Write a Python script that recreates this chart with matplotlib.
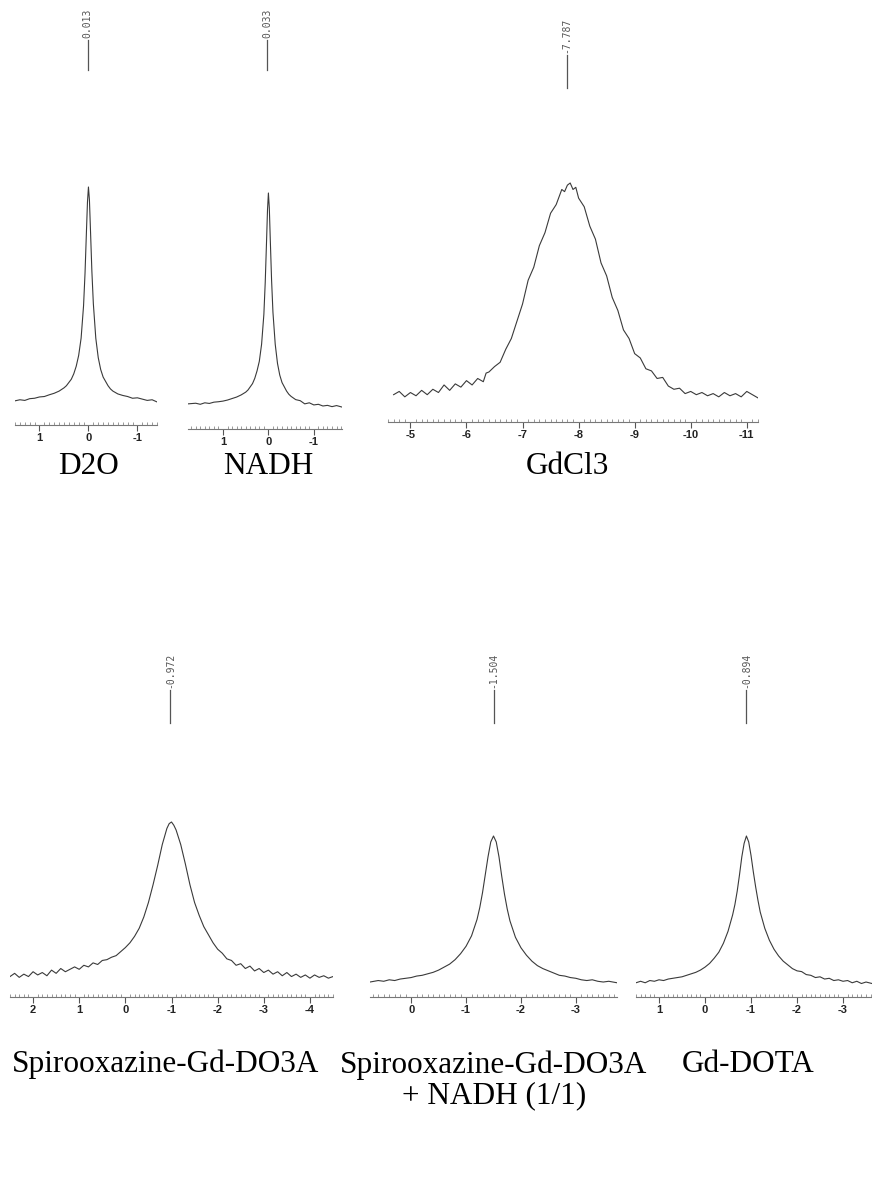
"""Gd 1H shift spectra: D2O / NADH / GdCl3 on top, DO3A / DO3A+NADH / DOTA below."""

import matplotlib
matplotlib.use("Agg")
import matplotlib.pyplot as plt
from matplotlib.transforms import blended_transform_factory

plt.rcParams["axes.unicode_minus"] = False

W, H = 872, 1181  # output size in px (dpi 100)

# ---- spectra (ppm, intensity in % of peak) ----
d2o_ppm = [1.5, 1.4, 1.3, 1.2, 1.1, 1.0, 0.9, 0.8, 0.7, 0.6, 0.5, 0.45, 0.4, 0.35, 0.3,
           0.25, 0.2, 0.15, 0.1, 0.07, 0.04, 0.02, 0.0, -0.02, -0.04, -0.07, -0.1, -0.15,
           -0.2, -0.25, -0.3, -0.35, -0.4, -0.45, -0.5, -0.6, -0.7, -0.8, -0.9, -1.0, -1.1,
           -1.2, -1.3, -1.4]
d2o_int = [1.0, 1.5, 1.2, 2.0, 2.2, 2.8, 3.0, 3.8, 4.5, 5.5, 7.0, 8.0, 9.5, 11, 13.5,
           17, 22, 30, 45, 60, 80, 93, 100, 94, 81, 61, 46, 30,
           21, 15.5, 12, 10, 8, 6.5, 5.5, 4.2, 3.5, 3.0, 2.2, 2.4, 1.8,
           1.2, 1.5, 0.5]

nadh_ppm = [1.77, 1.6, 1.5, 1.4, 1.3, 1.2, 1.1, 1.0, 0.9, 0.8, 0.7, 0.6, 0.5, 0.45, 0.4,
            0.35, 0.3, 0.25, 0.2, 0.15, 0.1, 0.07, 0.04, 0.02, 0.0, -0.02, -0.04, -0.07,
            -0.1, -0.15, -0.2, -0.25, -0.3, -0.35, -0.4, -0.45, -0.5, -0.6, -0.7, -0.8,
            -0.9, -1.0, -1.1, -1.2, -1.3, -1.4, -1.5, -1.62]
nadh_int = [1.0, 1.3, 0.8, 1.5, 1.2, 1.8, 2.0, 2.3, 2.8, 3.5, 4.2, 5.2, 6.5, 7.5, 9,
            10.5, 13, 16.5, 21, 29, 43, 58, 78, 92, 100, 93, 79, 59,
            44, 29, 20, 14.5, 11, 9, 7, 5.5, 4.5, 3.0, 2.5, 1.0,
            1.5, 0.5, 0.8, 0.0, 0.3, -0.3, 0.2, -0.5]

gdcl3_ppm = [-4.7, -4.8, -4.9, -5.0, -5.1, -5.2, -5.3, -5.4, -5.5, -5.6, -5.7, -5.8, -5.9,
             -6.0, -6.1, -6.2, -6.3, -6.35, -6.4, -6.5, -6.6, -6.7, -6.8, -6.9, -7.0, -7.1,
             -7.2, -7.3, -7.4, -7.5, -7.6, -7.7, -7.75, -7.8, -7.85, -7.9, -7.95, -8.0,
             -8.1, -8.2, -8.3, -8.4, -8.5, -8.6, -8.7, -8.8, -8.9, -9.0, -9.1, -9.2, -9.3,
             -9.4, -9.5, -9.6, -9.7, -9.8, -9.9, -10.0, -10.1, -10.2, -10.3, -10.4, -10.5,
             -10.6, -10.7, -10.8, -10.9, -11.0, -11.1, -11.2]
gdcl3_int = [2.0, 3.5, 1.0, 3.0, 1.5, 4.0, 2.0, 4.5, 3.0, 6.5, 4.0, 7.0, 5.5,
             8.5, 6.5, 9.5, 8.0, 12, 12.5, 15, 17, 23, 28, 36, 44, 55,
             61, 71, 77, 86, 90, 97, 96, 99, 100, 97, 98, 93,
             89, 80, 74, 63, 57, 47, 41, 32, 28, 21, 19, 14, 13,
             9.5, 10, 6, 4.5, 5, 2.5, 3.5, 2.0, 3.0, 1.5, 2.5, 1.0,
             3.0, 1.5, 2.5, 1.0, 3.5, 2.0, 0.5]

do3a_ppm = [2.5, 2.4, 2.3, 2.2, 2.1, 2.0, 1.9, 1.8, 1.7, 1.6, 1.5, 1.4, 1.3, 1.2, 1.1,
            1.0, 0.9, 0.8, 0.7, 0.6, 0.5, 0.4, 0.3, 0.2, 0.1, 0.0, -0.1, -0.2, -0.3,
            -0.4, -0.5, -0.6, -0.7, -0.8, -0.9, -0.95, -1.0, -1.05, -1.1, -1.2, -1.3,
            -1.4, -1.5, -1.6, -1.7, -1.8, -1.9, -2.0, -2.1, -2.2, -2.3, -2.4, -2.5, -2.6,
            -2.7, -2.8, -2.9, -3.0, -3.1, -3.2, -3.3, -3.4, -3.5, -3.6, -3.7, -3.8, -3.9,
            -4.0, -4.1, -4.2, -4.3, -4.4, -4.5]
do3a_int = [4, 6, 3.5, 5.5, 4, 7, 5, 6.5, 4.5, 8, 6, 9, 7, 8.5, 10,
            8.5, 11, 10, 12.5, 11.5, 14, 14.5, 16, 17, 19.5, 22, 25, 29, 34,
            41, 50, 61, 73, 86, 96, 99, 100, 98, 95, 86, 74,
            61, 50, 42, 35, 30, 25, 21, 18.5, 15, 14, 11, 12, 9,
            10.5, 7.5, 9, 6.5, 8, 5.5, 7, 4.5, 6.5, 4, 5.5, 3.5, 5,
            3, 5, 3.5, 4.5, 3, 4]

do3a_nadh_ppm = [0.75, 0.6, 0.5, 0.4, 0.3, 0.2, 0.1, 0.0, -0.1, -0.2, -0.3, -0.4, -0.5,
                 -0.6, -0.7, -0.8, -0.9, -1.0, -1.1, -1.2, -1.25, -1.3, -1.35, -1.4, -1.45,
                 -1.5, -1.55, -1.6, -1.65, -1.7, -1.75, -1.8, -1.9, -2.0, -2.1, -2.2, -2.3,
                 -2.4, -2.5, -2.6, -2.7, -2.8, -2.9, -3.0, -3.1, -3.2, -3.3, -3.4, -3.5,
                 -3.6, -3.75]
do3a_nadh_int = [2.0, 3.0, 2.5, 3.5, 3.0, 4.0, 4.5, 5.0, 6.0, 6.5, 7.5, 8.5, 10,
                 12, 14, 17, 21, 26, 33, 44, 52, 62, 74, 86, 96,
                 100, 96, 86, 73, 61, 51, 43, 32, 25, 20, 16, 13,
                 11, 9.5, 8, 6.5, 6, 5, 4.5, 3.5, 3.0, 3.5, 2.5, 2.0,
                 2.5, 1.5]

dota_ppm = [1.5, 1.4, 1.3, 1.2, 1.1, 1.0, 0.9, 0.8, 0.7, 0.6, 0.5, 0.4, 0.3, 0.2, 0.1,
            0.0, -0.1, -0.2, -0.3, -0.4, -0.5, -0.6, -0.65, -0.7, -0.75, -0.8, -0.85,
            -0.9, -0.95, -1.0, -1.05, -1.1, -1.15, -1.2, -1.3, -1.4, -1.5, -1.6, -1.7,
            -1.8, -1.9, -2.0, -2.1, -2.2, -2.3, -2.4, -2.5, -2.6, -2.7, -2.8, -2.9, -3.0,
            -3.1, -3.2, -3.3, -3.4, -3.5, -3.63]
dota_int = [1.5, 2.5, 1.5, 3.0, 2.5, 3.5, 3.0, 4.0, 4.5, 5.0, 5.5, 6.5, 7.5, 8.5, 10,
            12, 14.5, 18, 22, 28, 36, 47, 54, 63, 74, 86, 95,
            100, 96, 87, 76, 66, 57, 49, 38, 30, 24, 19.5, 16,
            13.5, 11, 9.5, 9, 7, 6.5, 5, 5.5, 4, 4.5, 3, 3.5, 2.5,
            3.0, 1.5, 2.5, 1.0, 2.0, 1.0]

# picked peak positions (ppm) and axis ticks
shifts = [0.013, 0.033, -7.787, -0.972, -1.504, -0.894]
ticks = [[1, 0, -1], [1, 0, -1], [-5, -6, -7, -8, -9, -10, -11],
         [2, 1, 0, -1, -2, -3, -4], [0, -1, -2, -3], [1, 0, -1, -2, -3]]
labels = ["D2O", "NADH", "GdCl3", "Spirooxazine-Gd-DO3A",
          "Spirooxazine-Gd-DO3A\n+ NADH (1/1)", "Gd-DOTA"]
spectra = [(d2o_ppm, d2o_int), (nadh_ppm, nadh_int), (gdcl3_ppm, gdcl3_int),
           (do3a_ppm, do3a_int), (do3a_nadh_ppm, do3a_nadh_int), (dota_ppm, dota_int)]

# layout in px: xlim, (x0, x1), peak_y, base_y, axis_y, (text_bottom, line_bottom), label centre
layout = [
    ((1.5, -1.4), (15, 157), 187, 403, 425, (40, 70), (88, 466)),
    ((1.77, -1.62), (188, 342), 193, 406, 429, (40, 70), (268, 466)),
    ((-4.68, -11.2), (388, 758), 183, 399, 422, (55, 88), (567, 466)),
    ((2.5, -4.5), (10, 333), 822, 983, 997, (690, 723), (166, 1064)),
    ((0.75, -3.75), (370, 617), 836, 985, 997, (690, 723), (494, 1080)),
    ((1.5, -3.63), (636, 872), 836, 985, 997, (690, 723), (748, 1064)),
]

fig = plt.figure(figsize=(W / 100, H / 100), dpi=100)
fig.patch.set_facecolor("white")

for (ppm, inten), shift, tk, lab, lay in zip(spectra, shifts, ticks, labels, layout):
    xlim, (x0, x1), peak_y, base_y, axis_y, (txt_y, line_y), (lx, ly) = lay
    top_y = peak_y - 6
    ax = fig.add_axes([x0 / W, 1 - axis_y / H, (x1 - x0) / W, (axis_y - top_y) / H])
    ppu = (base_y - peak_y) / 100.0
    ax.set_ylim(-(axis_y - base_y) / ppu, 100 + 6 / ppu)
    ax.set_xlim(*xlim)
    ax.plot(ppm, inten, color="#3a3a3a", lw=0.8)

    for s in ("left", "right", "top"):
        ax.spines[s].set_visible(False)
    ax.spines["bottom"].set_color("#777777")
    ax.spines["bottom"].set_linewidth(0.8)
    ax.set_yticks([])
    ax.set_xticks(tk)
    ax.set_xticklabels([str(t) for t in tk], fontweight="bold", fontsize=8,
                       family="Liberation Sans", color="#222222")
    lo, hi = min(xlim), max(xlim)
    minor = [i / 10 for i in range(int(lo * 10), int(hi * 10) + 1)]
    ax.set_xticks(minor, minor=True)
    ax.tick_params(which="major", direction="out", length=4, width=0.8,
                   color="#555555", pad=2)
    ax.tick_params(which="minor", direction="in", length=2.5, width=0.6,
                   color="#888888")

    # peak pick marker above the spectrum
    tr = blended_transform_factory(ax.transData, fig.transFigure)
    ax.plot([shift, shift], [1 - txt_y / H, 1 - line_y / H], transform=tr,
            clip_on=False, color="#555555", lw=0.9)
    ax.text(shift, 1 - txt_y / H + 2 / H, f"{shift:.3f}", transform=tr, rotation=90,
            ha="center", va="bottom", family="DejaVu Sans Mono", fontsize=7,
            color="#555555")

    fig.text(lx / W, 1 - ly / H, lab, ha="center", va="center",
             family="Liberation Serif", fontsize=22.5, linespacing=1.05)

fig.savefig("out.png", dpi=100, facecolor="white")
